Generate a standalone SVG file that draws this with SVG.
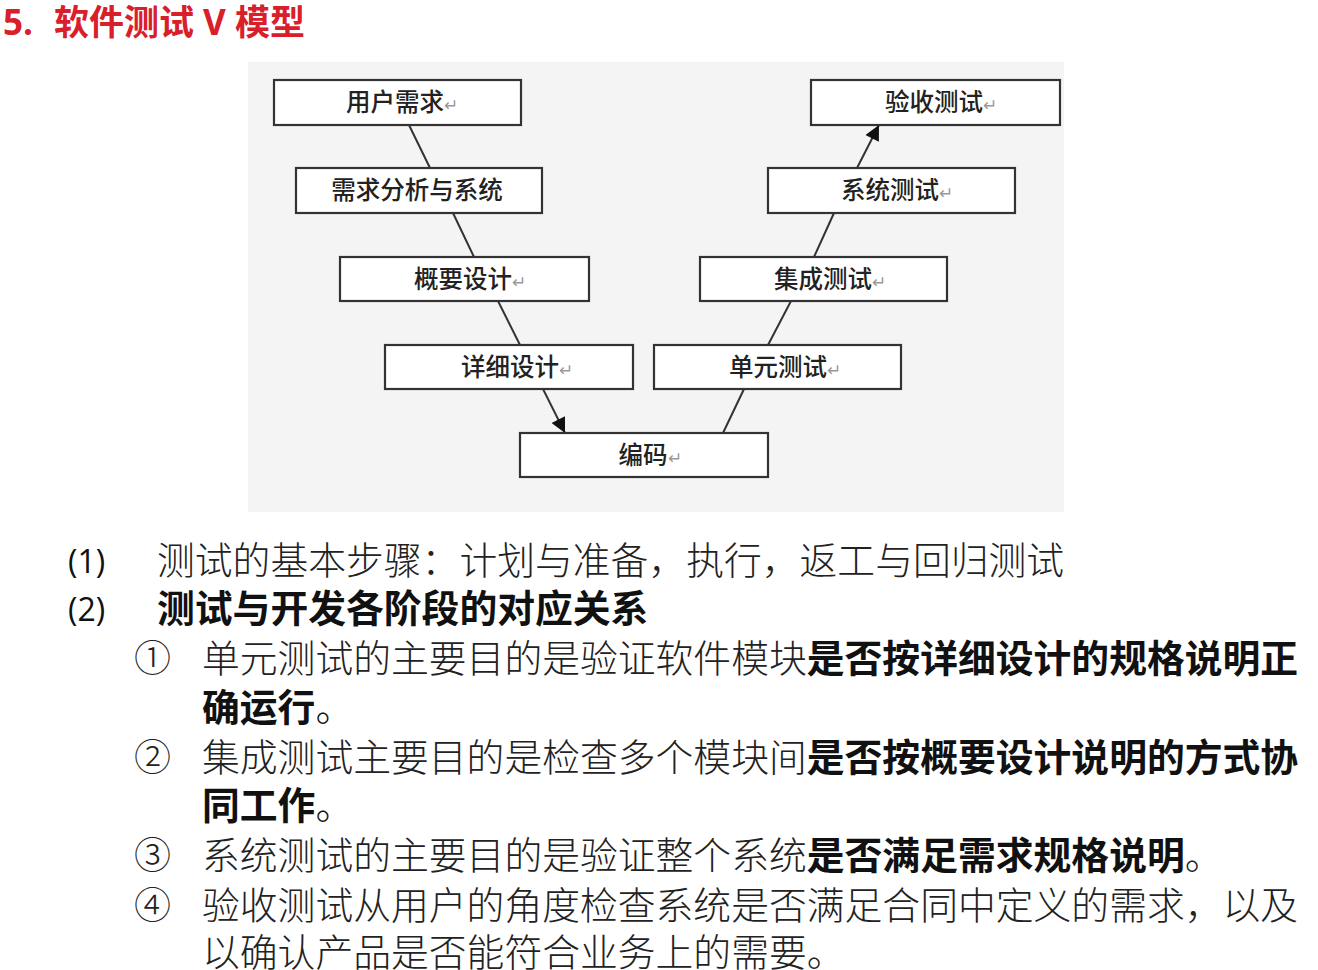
<svg xmlns="http://www.w3.org/2000/svg" width="1318" height="970" viewBox="0 0 1318 970">
<defs>
<marker id="ah" viewBox="0 0 10 10" refX="10" refY="5" markerWidth="16" markerHeight="15" markerUnits="userSpaceOnUse" orient="auto">
<path d="M0,0 L10,5 L0,10 z" fill="#111"/>
</marker>
<style>
.box{fill:#ffffff;stroke:#333;stroke-width:2.2}
.bt{font-family:"Noto Sans CJK SC","Noto Sans",sans-serif;font-size:24.5px;fill:#222;text-anchor:middle;font-weight:500}
.ret{font-size:17px;fill:#999;font-weight:400}
.ln{stroke:#333;stroke-width:2;fill:none}
.body{font-family:"Noto Sans CJK SC","Noto Sans",sans-serif;font-size:37.8px;fill:#222;font-weight:300}
.b{font-weight:700;fill:#111}
.num{font-family:"Open Sans","Liberation Sans",sans-serif;font-size:32px;fill:#111}
.circ{font-family:"Noto Sans CJK SC",sans-serif;font-size:37px;fill:#222;font-weight:300}
</style>
</defs>
<rect width="1318" height="970" fill="#ffffff"/>
<text id="title" x="3" y="35" font-family="'Open Sans','Noto Sans CJK SC',sans-serif" font-size="35" font-weight="700" fill="#d9202a">5.<tspan x="54" font-family="'Noto Sans CJK SC',sans-serif">软件测试</tspan><tspan font-family="'Open Sans',sans-serif"> V </tspan><tspan font-family="'Noto Sans CJK SC',sans-serif">模型</tspan></text>
<rect x="248" y="62" width="816" height="450" fill="#f4f4f4"/>
<g id="connectors">
<line class="ln" x1="409" y1="125" x2="430" y2="168"/>
<line class="ln" x1="453" y1="213" x2="474" y2="257"/>
<line class="ln" x1="498" y1="301" x2="520" y2="345"/>
<line class="ln" x1="543" y1="389" x2="565" y2="433" marker-end="url(#ah)"/>
<line class="ln" x1="723" y1="433" x2="744" y2="389"/>
<line class="ln" x1="768" y1="345" x2="791" y2="301"/>
<line class="ln" x1="814" y1="257" x2="834" y2="213"/>
<line class="ln" x1="857" y1="168" x2="879" y2="125" marker-end="url(#ah)"/>
</g>
<g id="n1"><rect class="box" x="274" y="80" width="247" height="45"/><text class="bt" x="402" y="111">用户需求<tspan class="ret">↵</tspan></text></g>
<g id="n2"><rect class="box" x="296" y="168" width="246" height="45"/><text class="bt" x="417" y="199">需求分析与系统</text></g>
<g id="n3"><rect class="box" x="340" y="257" width="249" height="44"/><text class="bt" x="470" y="288">概要设计<tspan class="ret">↵</tspan></text></g>
<g id="n4"><rect class="box" x="385" y="345" width="248" height="44"/><text class="bt" x="517" y="376">详细设计<tspan class="ret">↵</tspan></text></g>
<g id="n5"><rect class="box" x="520" y="433" width="248" height="44"/><text class="bt" x="650" y="464">编码<tspan class="ret">↵</tspan></text></g>
<g id="n6"><rect class="box" x="654" y="345" width="247" height="44"/><text class="bt" x="785" y="376">单元测试<tspan class="ret">↵</tspan></text></g>
<g id="n7"><rect class="box" x="700" y="257" width="247" height="44"/><text class="bt" x="830" y="288">集成测试<tspan class="ret">↵</tspan></text></g>
<g id="n8"><rect class="box" x="768" y="168" width="247" height="45"/><text class="bt" x="897" y="199">系统测试<tspan class="ret">↵</tspan></text></g>
<g id="n9"><rect class="box" x="811" y="80" width="249" height="45"/><text class="bt" x="941" y="111">验收测试<tspan class="ret">↵</tspan></text></g>
<g id="notes">
<text class="num" x="68" y="573">(1)</text>
<text class="body" x="157" y="574">测试的基本步骤：计划与准备，执行，返工与回归测试</text>
<text class="num" x="68" y="621">(2)</text>
<text class="body b" x="157" y="622">测试与开发各阶段的对应关系</text>
<text class="circ" x="134" y="672">①</text>
<text class="body" x="202" y="672">单元测试的主要目的是验证软件模块<tspan class="b">是否按详细设计的规格说明正</tspan></text>
<text class="body b" x="202" y="721">确运行<tspan font-weight="300">。</tspan></text>
<text class="circ" x="134" y="771">②</text>
<text class="body" x="202" y="771">集成测试主要目的是检查多个模块间<tspan class="b">是否按概要设计说明的方式协</tspan></text>
<text class="body b" x="202" y="819">同工作<tspan font-weight="300">。</tspan></text>
<text class="circ" x="134" y="869">③</text>
<text class="body" x="202" y="869">系统测试的主要目的是验证整个系统<tspan class="b">是否满足需求规格说明</tspan>。</text>
<text class="circ" x="134" y="919">④</text>
<text class="body" x="202" y="919">验收测试从用户的角度检查系统是否满足合同中定义的需求，以及</text>
<text class="body" x="202" y="966">以确认产品是否能符合业务上的需要。</text>
</g>
</svg>
